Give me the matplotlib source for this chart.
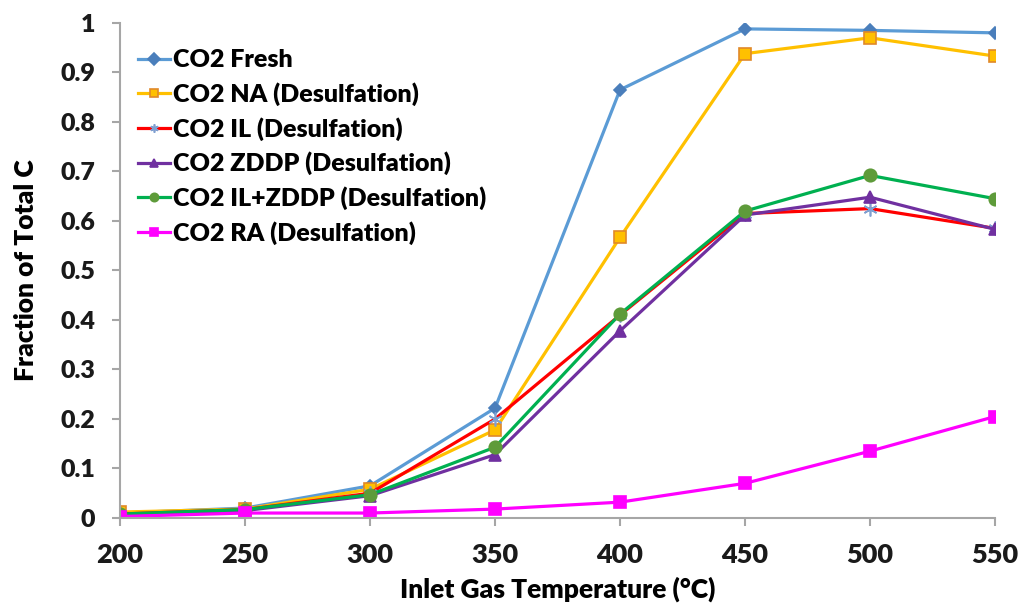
import matplotlib
matplotlib.use("Agg")
import matplotlib.pyplot as plt

temps = [200, 250, 300, 350, 400, 450, 500, 550]

co2_fresh = [0.010, 0.020, 0.065, 0.222, 0.865, 0.988, 0.985, 0.980]
co2_na = [0.012, 0.018, 0.058, 0.178, 0.567, 0.938, 0.970, 0.933]
co2_il = [0.008, 0.017, 0.050, 0.200, 0.410, 0.615, 0.625, 0.585]
co2_zddp = [0.007, 0.015, 0.045, 0.128, 0.378, 0.612, 0.648, 0.583]
co2_il_zddp = [0.008, 0.017, 0.047, 0.143, 0.412, 0.620, 0.692, 0.645]
co2_ra = [0.003, 0.010, 0.010, 0.018, 0.032, 0.070, 0.135, 0.205]

labels = ["CO2 Fresh", "CO2 NA (Desulfation)", "CO2 IL (Desulfation)",
          "CO2 ZDDP (Desulfation)", "CO2 IL+ZDDP (Desulfation)", "CO2 RA (Desulfation)"]

W = 'heavy'
plt.rcParams['font.family'] = ['Lato', 'DejaVu Sans']
plt.rcParams['font.weight'] = W

fig = plt.figure(figsize=(10.19, 6.04), dpi=100)
ax = fig.add_axes([0.1178, 0.1424, 0.8587, 0.8196])

# (series, line colour, marker, marker face, marker edge, marker size)
styles = [
    (co2_fresh, '#5B9BD5', 'D', '#4A7EBB', '#4A7EBB', 6),
    (co2_na, '#FFC000', 's', '#FFC000', '#E0892A', 9),
    (co2_il, '#FF0000', (6, 2, 0), '#7F9FD0', '#7F9FD0', 10),
    (co2_zddp, '#7030A0', '^', '#7030A0', '#7030A0', 8),
    (co2_il_zddp, '#00B050', 'o', '#5E9B3A', '#5E9B3A', 9),
    (co2_ra, '#FF00FF', 's', '#FF00FF', '#FF00FF', 8),
]

for (vals, col, mk, mfc, mec, ms), lab in zip(styles, labels):
    ax.plot(temps, vals, color=col, lw=2.3, marker=mk, markerfacecolor=mfc,
            markeredgecolor=mec, markersize=ms, markeredgewidth=1.2, label=lab)

ax.set_xlim(200, 550)
ax.set_ylim(0, 1)
ax.set_xticks(temps)
ax.set_yticks([0, 0.1, 0.2, 0.3, 0.4, 0.5, 0.6, 0.7, 0.8, 0.9, 1.0])
ax.set_yticklabels(['0', '0.1', '0.2', '0.3', '0.4', '0.5', '0.6', '0.7', '0.8', '0.9', '1'])

for side in ['top', 'right']:
    ax.spines[side].set_visible(False)
for side in ['left', 'bottom']:
    ax.spines[side].set_color('#A6A6A6')
    ax.spines[side].set_linewidth(1.5)
    ax.spines[side].set_clip_on(False)

ax.tick_params(axis='both', colors='#A6A6A6', length=6, width=1.5, labelcolor='#1A1A1A')
ax.tick_params(axis='x', labelsize=19.5, pad=12)
ax.tick_params(axis='y', labelsize=18, pad=12)
for lbl in ax.get_xticklabels() + ax.get_yticklabels():
    lbl.set_fontweight(W)

ax.set_xlabel('Inlet Gas Temperature (°C)', fontsize=19, fontweight=W, labelpad=7)
ax.set_ylabel('Fraction of Total C', fontsize=19, fontweight=W, labelpad=16)

leg = ax.legend(loc='upper left', bbox_to_anchor=(0.0, 0.982), frameon=False,
                prop={'size': 18, 'weight': W}, handlelength=1.3,
                handletextpad=0.1, labelspacing=0.44, borderaxespad=0.3)
for h in leg.legend_handles:
    h.set_markersize(6)

fig.savefig('out.png', dpi=100)
